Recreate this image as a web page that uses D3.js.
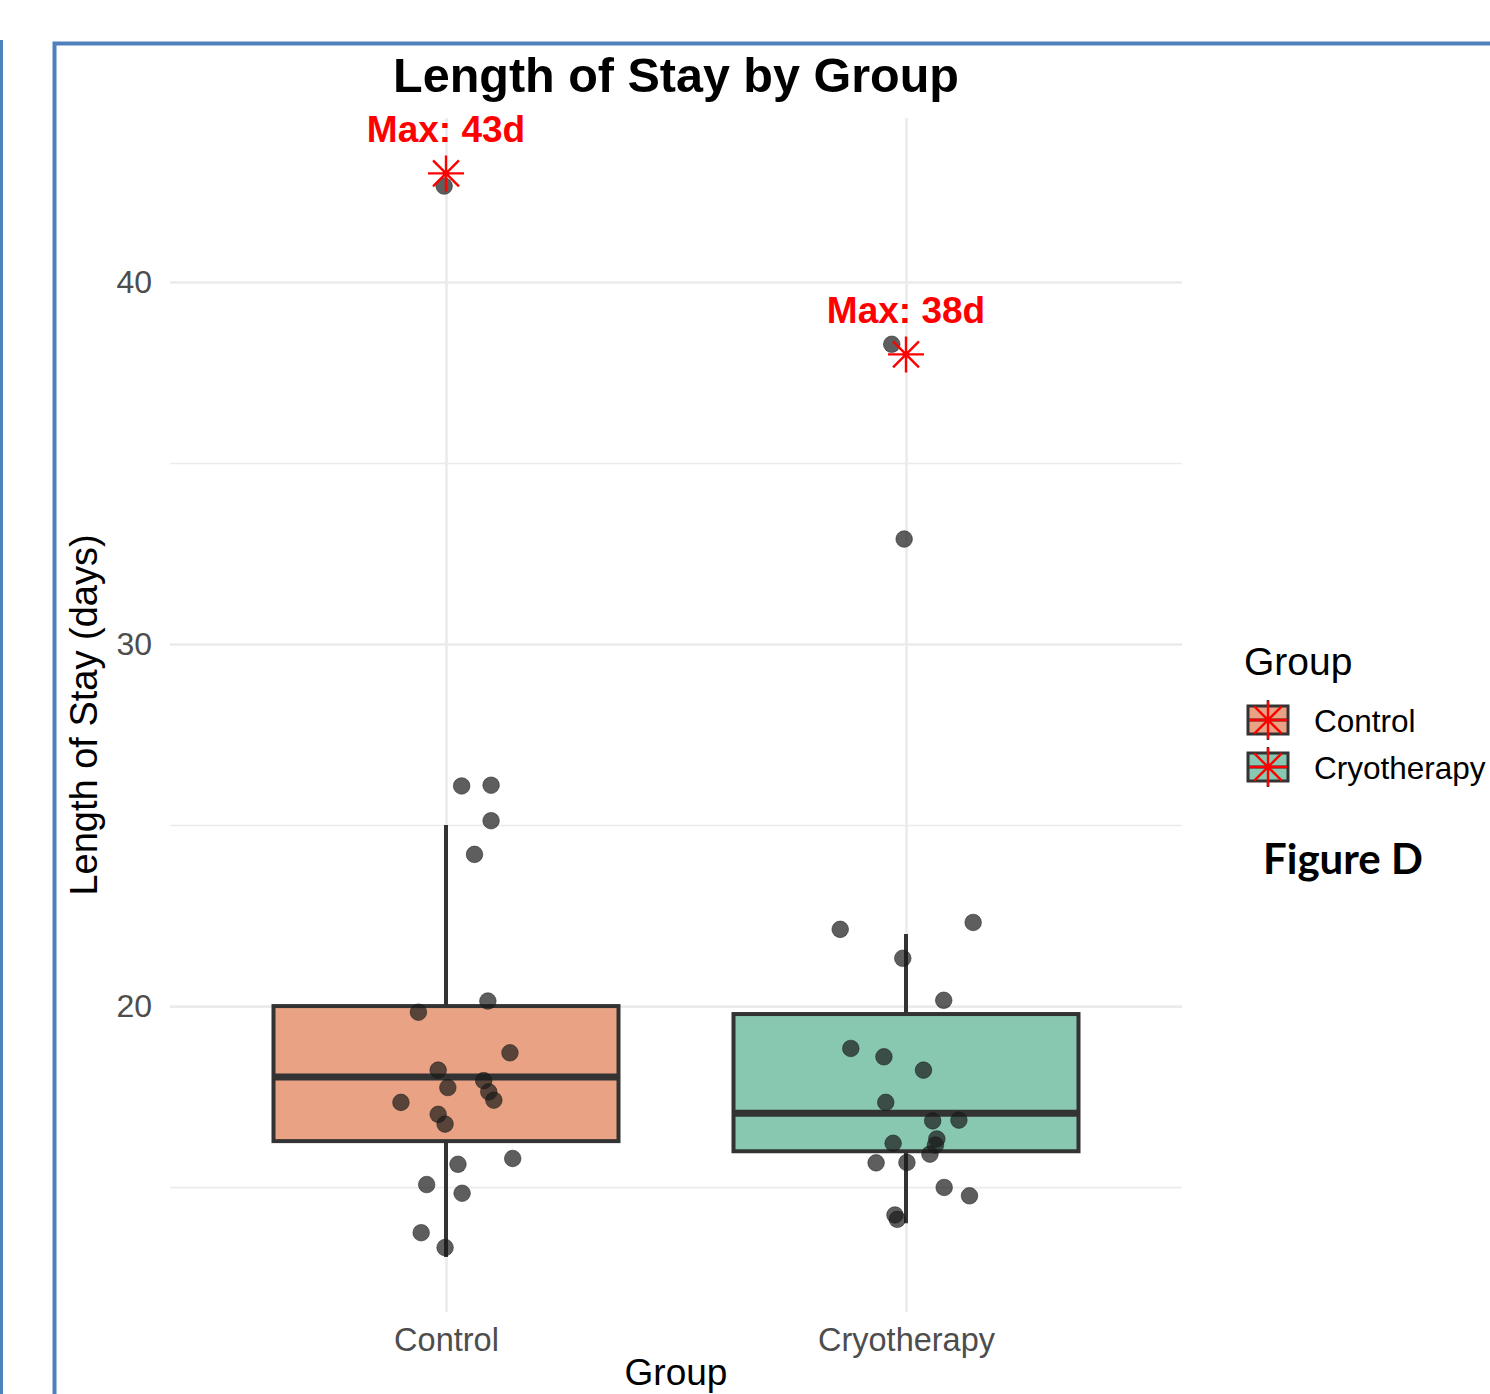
<!DOCTYPE html>
<html>
<head>
<meta charset="utf-8">
<script src="https://cdn.jsdelivr.net/npm/d3@7"></script>
<style>
  body { margin: 0; background: #fff; }
  svg { display: block; font-family: "Liberation Sans", Arial, sans-serif; }
</style>
</head>
<body>
<div id="chart"></div>
<script>
// Grupos y estadisticos de las cajas
const groups = ["Control", "Cryotherapy"];
const boxLower = [16.27, 15.99];
const boxMedian = [18.04, 17.04];
const boxUpper = [20.0, 19.78];
const whiskerLow = [13.07, 14.0];
const whiskerHigh = [25.0, 21.99];
const maxValues = [43, 38];
const fillColors = ["#e9a384", "#88c7b0"];

// Puntos individuales (valor y desplazamiento de jitter en unidades de categoria)
const controlValues = [26.08, 26.1, 25.12, 24.19, 20.14, 19.83, 18.71, 18.23, 17.94, 17.75, 17.63,
  17.40, 17.34, 17.01, 16.74, 15.79, 15.63, 15.07, 14.83, 13.74, 13.33, 42.65];
const controlJitter = [0.034, 0.098, 0.098, 0.062, 0.091, -0.060, 0.139, -0.017, 0.082, 0.004, 0.093,
  0.104, -0.098, -0.017, -0.002, 0.145, 0.026, -0.042, 0.035, -0.054, -0.002, -0.004];
const cryoValues = [22.12, 22.31, 21.32, 20.16, 18.83, 18.60, 18.23, 17.34, 16.83, 16.85, 16.33,
  16.21, 16.16, 15.91, 15.67, 15.68, 14.99, 14.76, 14.23, 14.11, 38.28, 32.9];
const cryoJitter = [-0.143, 0.146, -0.007, 0.082, -0.120, -0.048, 0.038, -0.044, 0.058, 0.115, 0.067,
  -0.028, 0.064, 0.052, -0.065, 0.002, 0.083, 0.138, -0.024, -0.019, -0.031, -0.004];

const majorTicks = [20, 30, 40];
const minorTicks = [15, 25, 35];

const svgWidth = 1490, svgHeight = 1394;
const panel = { left: 170, right: 1182, top: 118, bottom: 1312 };

const svg = d3.select("#chart")
  .append("svg")
  .attr("width", svgWidth)
  .attr("height", svgHeight);

// Marco azul de la diapositiva
svg.append("line")
  .attr("x1", 1.5).attr("x2", 1.5)
  .attr("y1", 40).attr("y2", svgHeight)
  .attr("stroke", "#4f81bd").attr("stroke-width", 3);
svg.append("path")
  .attr("d", `M54.5,${svgHeight} L54.5,43.5 L${svgWidth},43.5`)
  .attr("fill", "none")
  .attr("stroke", "#4f81bd").attr("stroke-width", 4);

const x = d3.scalePoint()
  .domain(groups)
  .range([panel.left, panel.right])
  .padding(0.6);

const y = d3.scaleLinear()
  .domain([11.55, 44.53])
  .range([panel.bottom, panel.top]);

const step = x.step();
const boxW = step * 0.75;

// Rejilla menor
svg.append("g")
  .attr("transform", `translate(${panel.left},0)`)
  .call(d3.axisLeft(y).tickValues(minorTicks).tickSize(-(panel.right - panel.left)).tickFormat(""))
  .call(g => g.select(".domain").remove())
  .call(g => g.selectAll("line").attr("stroke", "#ebebeb").attr("stroke-width", 1.6));

// Rejilla mayor + etiquetas eje Y
svg.append("g")
  .attr("transform", `translate(${panel.left},0)`)
  .call(d3.axisLeft(y).tickValues(majorTicks).tickSize(-(panel.right - panel.left)).tickPadding(18))
  .call(g => g.select(".domain").remove())
  .call(g => g.selectAll("line").attr("stroke", "#ebebeb").attr("stroke-width", 2.6))
  .call(g => g.selectAll("text")
    .attr("fill", "#4d4d4d")
    .style("font-size", "32px")
    .style("font-family", "'Liberation Sans', Arial, sans-serif"));

// Rejilla vertical + etiquetas eje X
svg.append("g")
  .attr("transform", `translate(0,${panel.bottom})`)
  .call(d3.axisBottom(x).tickSize(-(panel.bottom - panel.top)).tickPadding(16))
  .call(g => g.select(".domain").remove())
  .call(g => g.selectAll("line").attr("stroke", "#ebebeb").attr("stroke-width", 2.6))
  .call(g => g.selectAll("text")
    .attr("fill", "#4d4d4d")
    .style("font-size", "32.5px")
    .style("font-family", "'Liberation Sans', Arial, sans-serif"));

// Bigotes
svg.selectAll(".whisker")
  .data(groups)
  .enter().append("line")
  .attr("class", "whisker")
  .attr("x1", d => x(d)).attr("x2", d => x(d))
  .attr("y1", (d, i) => y(whiskerLow[i]))
  .attr("y2", (d, i) => y(whiskerHigh[i]))
  .attr("stroke", "#333333").attr("stroke-width", 4);

// Cajas
svg.selectAll(".box")
  .data(groups)
  .enter().append("rect")
  .attr("class", "box")
  .attr("x", d => x(d) - boxW / 2)
  .attr("y", (d, i) => y(boxUpper[i]))
  .attr("width", boxW)
  .attr("height", (d, i) => y(boxLower[i]) - y(boxUpper[i]))
  .attr("fill", (d, i) => fillColors[i])
  .attr("stroke", "#333333").attr("stroke-width", 4);

// Medianas
svg.selectAll(".median")
  .data(groups)
  .enter().append("line")
  .attr("class", "median")
  .attr("x1", d => x(d) - boxW / 2).attr("x2", d => x(d) + boxW / 2)
  .attr("y1", (d, i) => y(boxMedian[i]))
  .attr("y2", (d, i) => y(boxMedian[i]))
  .attr("stroke", "#333333").attr("stroke-width", 7);

// Puntos con jitter
const puntos = [
  ...controlValues.map((v, i) => ({ g: "Control", v: v, j: controlJitter[i] })),
  ...cryoValues.map((v, i) => ({ g: "Cryotherapy", v: v, j: cryoJitter[i] }))
];
svg.selectAll(".pt")
  .data(puntos)
  .enter().append("circle")
  .attr("class", "pt")
  .attr("cx", d => x(d.g) + d.j * step)
  .attr("cy", d => y(d.v))
  .attr("r", 8.3)
  .attr("fill", "#1a1a1a")
  .attr("fill-opacity", 0.7)
  .attr("stroke", "#1a1a1a")
  .attr("stroke-opacity", 0.5)
  .attr("stroke-width", 1);

// Asterisco rojo (forma 8 de ggplot)
function asterisco(g, cx, cy, r) {
  const d = r * 0.72;
  g.append("path")
    .attr("d", `M${cx - r},${cy}H${cx + r}M${cx},${cy - r}V${cy + r}` +
      `M${cx - d},${cy - d}L${cx + d},${cy + d}M${cx - d},${cy + d}L${cx + d},${cy - d}`)
    .attr("stroke", "#ff0000").attr("stroke-width", 2.4).attr("fill", "none");
}
groups.forEach((gr, i) => asterisco(svg, x(gr), y(maxValues[i]), 18));

// Etiquetas de maximo
svg.selectAll(".maxlab")
  .data(groups)
  .enter().append("text")
  .attr("class", "maxlab")
  .attr("x", d => x(d))
  .attr("y", (d, i) => y(maxValues[i]) - 31)
  .attr("text-anchor", "middle")
  .attr("fill", "#ff0000")
  .style("font-weight", "bold")
  .style("font-size", "37px")
  .text((d, i) => `Max: ${maxValues[i]}d`);

// Titulo
svg.append("text")
  .attr("x", (panel.left + panel.right) / 2)
  .attr("y", 92)
  .attr("text-anchor", "middle")
  .style("font-weight", "bold")
  .style("font-size", "48.5px")
  .text("Length of Stay by Group");

// Titulos de ejes
svg.append("text")
  .attr("x", (panel.left + panel.right) / 2)
  .attr("y", 1385)
  .attr("text-anchor", "middle")
  .style("font-size", "37px")
  .text("Group");

svg.append("text")
  .attr("transform", `translate(97,${(panel.top + panel.bottom) / 2}) rotate(-90)`)
  .attr("text-anchor", "middle")
  .style("font-size", "38px")
  .text("Length of Stay (days)");

// Leyenda
const leg = svg.append("g").attr("transform", "translate(1244,0)");
leg.append("text")
  .attr("x", 0).attr("y", 675)
  .style("font-size", "39px")
  .text("Group");

groups.forEach((gr, i) => {
  const cy = 720 + i * 47;
  const k = leg.append("g");
  k.append("line")
    .attr("x1", 24).attr("x2", 24)
    .attr("y1", cy - 20).attr("y2", cy + 20)
    .attr("stroke", "#333333").attr("stroke-width", 2.5);
  k.append("rect")
    .attr("x", 4).attr("y", cy - 14)
    .attr("width", 40).attr("height", 28)
    .attr("fill", fillColors[i])
    .attr("stroke", "#333333").attr("stroke-width", 3);
  k.append("line")
    .attr("x1", 4).attr("x2", 44)
    .attr("y1", cy).attr("y2", cy)
    .attr("stroke", "#333333").attr("stroke-width", 3);
  asterisco(k, 24, cy, 19);
  leg.append("text")
    .attr("x", 70).attr("y", cy + 12)
    .style("font-size", "31.5px")
    .text(gr);
});

svg.append("text")
  .attr("x", 1263).attr("y", 874)
  .style("font-family", "Lato, 'Open Sans', sans-serif")
  .style("font-weight", "bold")
  .style("font-size", "42px")
  .text("Figure D");
</script>
</body>
</html>
